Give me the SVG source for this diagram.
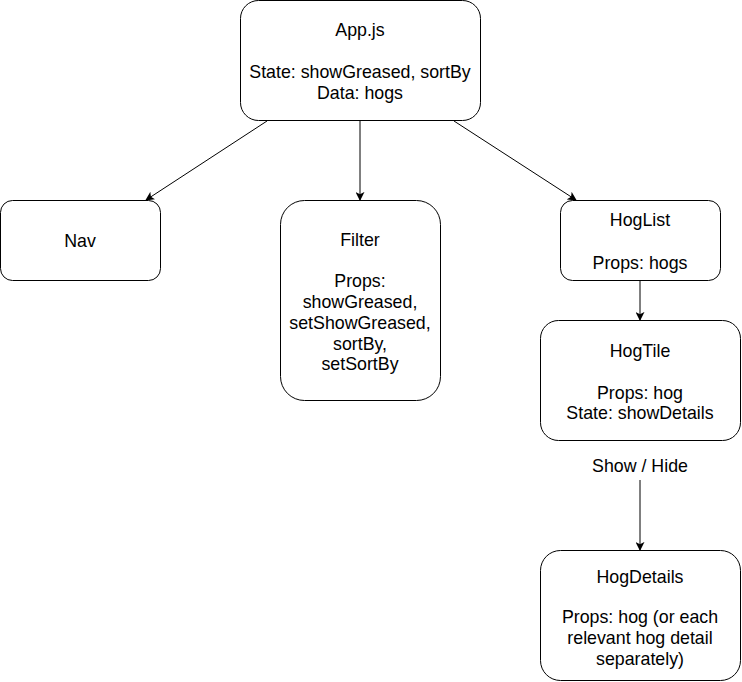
<svg xmlns="http://www.w3.org/2000/svg" width="742" height="682" viewBox="0 0 742 682">
<style>
.box{fill:#fff;stroke:#000;stroke-width:1}
.t{font-family:"Liberation Sans",Arial,sans-serif;font-size:17.8px;fill:#000;text-anchor:middle}
.edge{stroke:#000;stroke-width:1;fill:none}
</style>
<defs>
<marker id="arr" viewBox="0 0 10 10" refX="9" refY="5" markerWidth="9" markerHeight="9" markerUnits="userSpaceOnUse" orient="auto">
<path d="M0,0 L10,5 L0,10 L2.5,5 Z" fill="#000"/>
</marker>
</defs>
<rect width="742" height="682" fill="#fff"/>
<g id="connectors">
<line class="edge" x1="267" y1="121" x2="146" y2="200" marker-end="url(#arr)"/>
<line class="edge" x1="360" y1="120" x2="360" y2="200" marker-end="url(#arr)"/>
<line class="edge" x1="454" y1="121" x2="576" y2="200" marker-end="url(#arr)"/>
<line class="edge" x1="640" y1="280" x2="640" y2="320" marker-end="url(#arr)"/>
<line class="edge" x1="640" y1="480" x2="640" y2="550" marker-end="url(#arr)"/>
<text class="t" x="640" y="472">Show / Hide</text>
</g>
<g id="app">
<rect class="box" x="240.5" y="0.5" width="240" height="120" rx="18"/>
<text class="t" x="360" y="36">App.js</text>
<text class="t" x="360" y="78">State: showGreased, sortBy</text>
<text class="t" x="360" y="99">Data: hogs</text>
</g>
<g id="nav">
<rect class="box" x="0.5" y="200.5" width="160" height="80" rx="12"/>
<text class="t" x="80" y="247">Nav</text>
</g>
<g id="filter">
<rect class="box" x="280.5" y="200.5" width="160" height="200" rx="24"/>
<text class="t" x="360" y="246">Filter</text>
<text class="t" x="360" y="287">Props:</text>
<text class="t" x="360" y="308">showGreased,</text>
<text class="t" x="360" y="329">setShowGreased,</text>
<text class="t" x="360" y="350">sortBy,</text>
<text class="t" x="360" y="370">setSortBy</text>
</g>
<g id="hoglist">
<rect class="box" x="560.5" y="200.5" width="160" height="80" rx="12"/>
<text class="t" x="640" y="226">HogList</text>
<text class="t" x="640" y="269">Props: hogs</text>
</g>
<g id="hogtile">
<rect class="box" x="540.5" y="320.5" width="200" height="120" rx="18"/>
<text class="t" x="640" y="357">HogTile</text>
<text class="t" x="640" y="399">Props: hog</text>
<text class="t" x="640" y="419">State: showDetails</text>
</g>
<g id="hogdetails">
<rect class="box" x="540.5" y="550.5" width="200" height="130" rx="20"/>
<text class="t" x="640" y="583">HogDetails</text>
<text class="t" x="640" y="623">Props: hog (or each</text>
<text class="t" x="640" y="644">relevant hog detail</text>
<text class="t" x="640" y="665">separately)</text>
</g>
</svg>
